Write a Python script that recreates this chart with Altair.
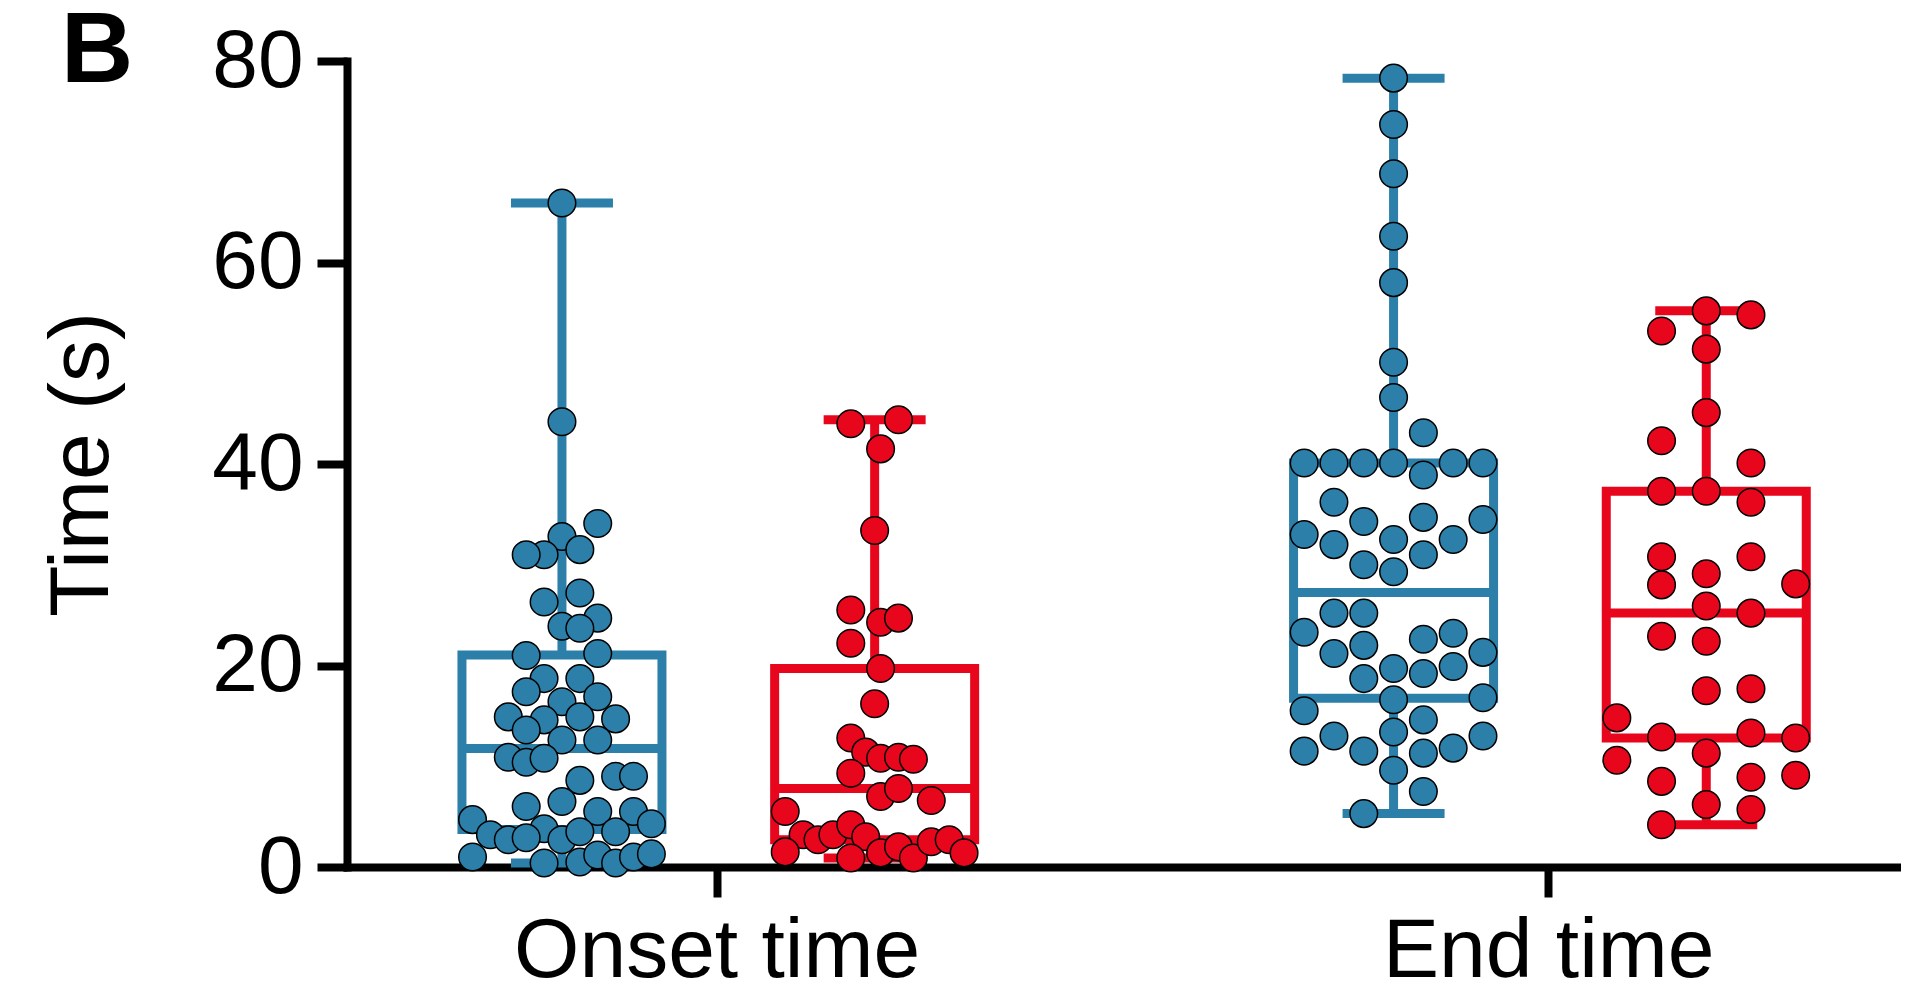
import altair as alt
import pandas as pd

# ---------------- data ----------------
categories = ["Onset time", "End time"]
groups = ["Group 1", "Group 2"]
colors = ["#2b7fa8", "#e8061d"]
panel_label = "B"
y_title = "Time (s)"
y_ticks = [0, 20, 40, 60, 80]

# values (s) and beeswarm slot (in dot diameters) for each point
onset_g1_values = [65.9, 44.2, 34.1, 32.8, 31.0, 31.0, 31.5, 26.3, 27.2, 24.7, 23.9, 23.7,
                   21.0, 21.2, 18.7, 18.7, 17.4, 16.9, 16.4, 14.9, 14.6, 14.9, 14.7, 13.6,
                   12.6, 12.6, 10.9, 10.4, 10.8, 8.6, 9.0, 9.0, 6.5, 6.0, 5.5, 5.5,
                   4.7, 4.3, 3.8, 3.2, 2.7, 2.9, 2.7, 3.5, 3.5, 1.0, 0.4, 0.5, 1.2, 0.4, 1.0, 1.3]
onset_g1_slots = [0.0, 0.0, 1.2, 0.0, -0.6, -1.2, 0.6, -0.6, 0.6, 1.2, 0.0, 0.6,
                  -1.2, 1.2, -0.6, 0.6, -1.2, 1.2, 0.0, -1.8, -0.6, 0.6, 1.8, -1.2,
                  0.0, 1.2, -1.8, -1.2, -0.6, 0.6, 1.8, 2.4, 0.0, -1.2, 1.2, 2.4,
                  -3.0, 3.0, -0.6, -2.4, -1.8, -1.2, 0.0, 0.6, 1.8, -3.0, -0.6, 0.6, 1.2, 1.8, 2.4, 3.0]

onset_g2_values = [44.0, 44.4, 41.5, 33.4, 25.5, 24.3, 24.7, 22.2, 19.7, 16.2, 12.8, 11.4,
                   10.8, 10.9, 10.7, 9.3, 7.0, 7.8, 6.6, 5.5, 3.2, 2.7, 3.2, 4.2, 3.0,
                   1.5, 0.9, 1.4, 2.0, 0.9, 2.5, 2.7, 1.4]
onset_g2_slots = [-0.8, 0.8, 0.2, 0.0, -0.8, 0.2, 0.8, -0.8, 0.2, 0.0, -0.8, -0.3,
                  0.2, 0.8, 1.3, -0.8, 0.2, 0.8, 1.9, -3.0, -2.4, -1.9, -1.4, -0.8, -0.3,
                  -3.0, -0.8, 0.2, 0.8, 1.3, 1.9, 2.5, 3.0]

end_g1_values = [78.3, 73.7, 68.8, 62.6, 58.0, 50.1, 46.6, 43.1,
                 40.1, 40.1, 40.1, 40.1, 40.1, 40.1, 38.9,
                 36.2, 34.3, 34.7, 34.5, 33.0, 32.0, 32.5, 32.5, 31.0, 30.0, 29.3,
                 25.2, 25.2, 23.3, 22.6, 23.2, 21.2, 22.0, 21.3,
                 18.7, 19.7, 19.2, 19.9, 16.6, 16.8, 15.5, 14.6, 13.4, 13.0, 13.0,
                 11.5, 11.5, 11.3, 11.8, 9.6, 7.5, 5.3]
end_g1_slots = [0, 0, 0, 0, 0, 0, 0, 1,
                -3, -2, -1, 0, 2, 3, 1,
                -2, -1, 1, 3, -3, -2, 0, 2, 1, -1, 0,
                -2, -1, -3, 1, 2, -2, -1, 3,
                -1, 0, 1, 2, 0, 3, -3, 1, 0, -2, 3,
                -3, -1, 1, 2, 0, 1, -1]

end_g2_values = [55.2, 54.8, 53.2, 51.4, 45.1, 42.3, 40.1, 37.3, 37.3, 36.2, 30.8, 30.8,
                 29.1, 28.0, 28.1, 25.9, 25.2, 22.9, 22.4, 17.5, 17.7, 14.8, 12.9, 13.3,
                 12.8, 11.3, 10.6, 8.5, 8.9, 9.1, 6.2, 5.7, 4.2]
end_g2_slots = [0, 1.5, -1.5, 0, 0, -1.5, 1.5, -1.5, 0, 1.5, -1.5, 1.5,
                0, -1.5, 3.0, 0, 1.5, -1.5, 0, 0, 1.5, -3.0, -1.5, 1.5,
                3.0, 0, -3.0, -1.5, 1.5, 3.0, 0, 1.5, -1.5]

rows = []
for cat, grp, vals, slots in [
    (categories[0], groups[0], onset_g1_values, onset_g1_slots),
    (categories[0], groups[1], onset_g2_values, onset_g2_slots),
    (categories[1], groups[0], end_g1_values, end_g1_slots),
    (categories[1], groups[1], end_g2_values, end_g2_slots),
]:
    for v, s in zip(vals, slots):
        rows.append({"cat": cat, "grp": grp, "value": v, "slot": s})
df = pd.DataFrame(rows)

# ---------------- layout constants ----------------
W, H = 1554, 806
PX_PER_UNIT = 837.0          # pixels between the two category centres
DOT_PX = 30.0                # one beeswarm slot in pixels
x_min = -367.0 / PX_PER_UNIT
x_max = x_min + W / PX_PER_UNIT
FONT = "Liberation Sans"
LW = 9

cat_expr = "indexof(" + str(categories) + ", datum.cat)"
shift_expr = f"datum.grp == '{groups[0]}' ? -0.186 : 0.19"

x_axis = alt.Axis(
    values=[0, 1],
    labelExpr=str(categories) + "[datum.value]",
    title=None, grid=False,
    tickSize=30, tickWidth=8, tickColor="black",
    domainWidth=8, domainColor="black", domainCap="square",
    labelFontSize=84, labelColor="black", labelBaseline="alphabetic",
    labelPadding=79, labelLimit=0,
    labelFlush=False, labelOverlap=False, labelBound=False,
)
y_axis = alt.Axis(
    values=y_ticks, grid=False,
    tickSize=30, tickWidth=8, tickColor="black",
    domainWidth=8, domainColor="black", domainCap="square",
    labelFontSize=82, labelColor="black", labelPadding=14, labelFlush=False,
    title=y_title, titleFontSize=84, titleFontWeight="normal", titleColor="black",
    titleAngle=270, titleBaseline="alphabetic", titleX=-240, titleY=H / 2,
)
x_scale = alt.Scale(domain=[x_min, x_max], nice=False, zero=False)
y_scale = alt.Scale(domain=[0, 80], nice=False, zero=False)
color_scale = alt.Scale(domain=groups, range=colors)

base = alt.Chart(df)

stats = base.transform_aggregate(
    q1="q1(value)", q3="q3(value)", med="median(value)",
    lo="min(value)", hi="max(value)", groupby=["cat", "grp"]
).transform_calculate(
    pos=f"{cat_expr} + ({shift_expr})"
)

X = alt.X("pos:Q", scale=x_scale, axis=x_axis)
col = alt.Color("grp:N", scale=color_scale, legend=None)

whisker = stats.mark_rule(strokeWidth=LW, opacity=1).encode(
    x=X, y=alt.Y("lo:Q", scale=y_scale, axis=y_axis), y2="hi:Q", color=col)

box = stats.mark_bar(size=200, fill="white", strokeWidth=LW, strokeJoin="miter",
                     opacity=1).encode(
    x=X, y=alt.Y("q1:Q", scale=y_scale, axis=y_axis), y2="q3:Q",
    stroke=alt.Stroke("grp:N", scale=color_scale, legend=None))

median = stats.mark_tick(orient="horizontal", size=200, thickness=LW, opacity=1).encode(
    x=X, y=alt.Y("med:Q", scale=y_scale, axis=y_axis), color=col)

cap_lo = stats.mark_tick(orient="horizontal", size=102, thickness=LW, opacity=1).encode(
    x=X, y=alt.Y("lo:Q", scale=y_scale, axis=y_axis), color=col)
cap_hi = stats.mark_tick(orient="horizontal", size=102, thickness=LW, opacity=1).encode(
    x=X, y=alt.Y("hi:Q", scale=y_scale, axis=y_axis), color=col)

points = base.transform_calculate(
    pos=f"{cat_expr} + ({shift_expr}) + datum.slot * {DOT_PX / PX_PER_UNIT}"
).mark_point(filled=True, shape="circle", size=760, stroke="black",
             strokeWidth=1.5, opacity=1).encode(
    x=X, y=alt.Y("value:Q", scale=y_scale, axis=y_axis),
    fill=alt.Fill("grp:N", scale=color_scale, legend=None))

label = alt.Chart(pd.DataFrame({"t": [panel_label]})).mark_text(
    fontSize=100, fontWeight="bold", align="left", baseline="alphabetic",
    color="black", font=FONT
).encode(text="t:N", x=alt.value(-286), y=alt.value(21))

chart = alt.layer(whisker, box, median, cap_lo, cap_hi, points, label).properties(
    width=W, height=H,
    padding={"left": 339, "top": 53, "right": 0, "bottom": 116},
    autosize=alt.AutoSizeParams(type="none"),
).configure(font=FONT).configure_view(stroke=None)

chart.save("out.html", embed_options={"renderer": "svg", "actions": False})
